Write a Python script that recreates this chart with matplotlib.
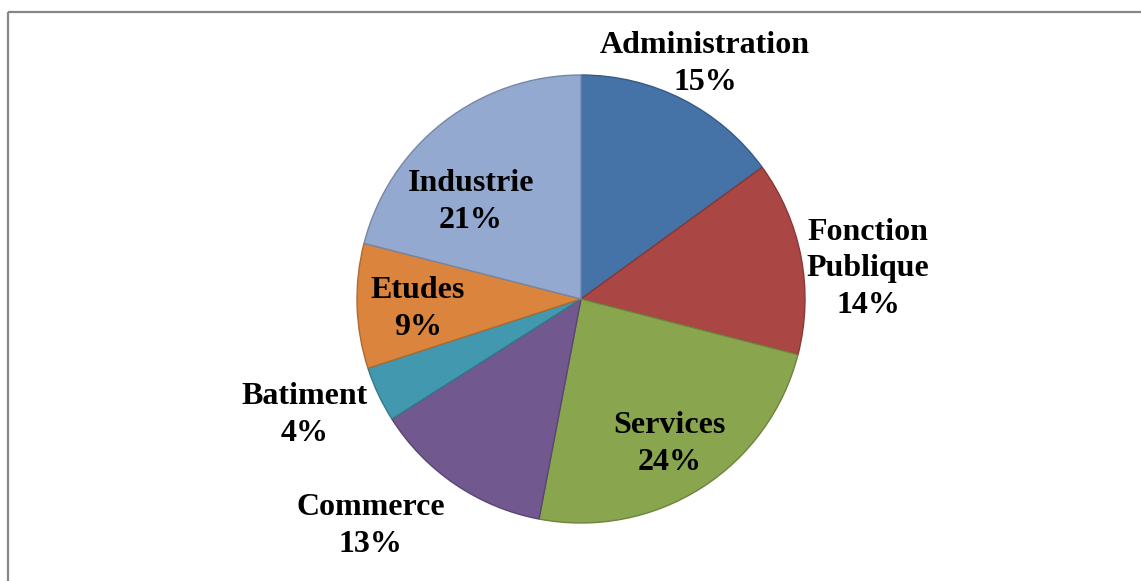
import matplotlib.pyplot as plt
from matplotlib.patches import Rectangle
import matplotlib.colors as mcolors

plt.rcParams["font.family"] = ["Liberation Serif", "DejaVu Serif"]

categories = ["Administration", "Fonction\nPublique", "Services", "Commerce",
              "Batiment", "Etudes", "Industrie"]
shares = [15, 14, 24, 13, 4, 9, 21]
colors = ["#4572A7", "#AA4643", "#89A54E", "#71588F", "#4198AF", "#DB843D", "#93A9CF"]

# label centres, in units of the radius from the pie centre
label_pos = [(0.554, 1.050), (1.281, 0.135), (0.397, -0.646), (-0.938, -1.013),
             (-1.232, -0.517), (-0.728, -0.044), (-0.491, 0.434)]

W, H = 1141, 581
cx, cy, R = 581, 299, 224

fig = plt.figure(figsize=(W / 100, H / 100), dpi=100, facecolor="white")
ax = fig.add_axes([0, 0, 1, 1])

edges = [tuple(c * 0.8 for c in mcolors.to_rgb(col)) for col in colors]
# y axis is flipped (pixel coords), so start at -90 and go counter-clockwise
wedges, _ = ax.pie(shares, colors=colors, startangle=-90, counterclock=True,
                   center=(cx, cy), radius=R, frame=True,
                   wedgeprops=dict(linewidth=1.0))
for w, ec in zip(wedges, edges):
    w.set_edgecolor(ec)
ax.set_xlim(0, W)
ax.set_ylim(H, 0)
ax.set_aspect("equal")
ax.axis("off")

for name, val, (dx, dy) in zip(categories, shares, label_pos):
    ax.text(cx + dx * R, cy - dy * R, f"{name}\n{val}%", ha="center", va="center",
            fontsize=23, fontweight="bold", color="black", linespacing=1.35)

ax.add_patch(Rectangle((8, 12), W + 20, H + 20, fill=False, edgecolor="#878787",
                       linewidth=1.6, clip_on=False))

fig.savefig("out.png", dpi=100, facecolor="white")
